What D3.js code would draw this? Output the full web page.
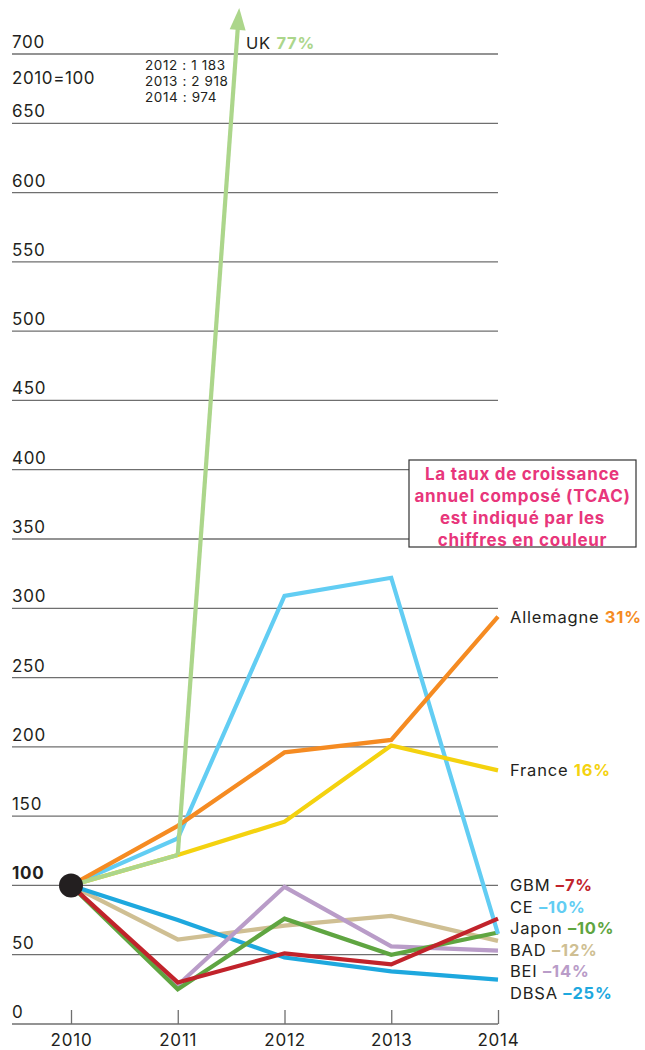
<!DOCTYPE html>
<html>
<head>
<meta charset="utf-8">
<script src="https://cdn.jsdelivr.net/npm/d3@7"></script>
<style>
  body { margin: 0; background: #fff; }
  svg { display: block; font-family: Inter, "Noto Sans", sans-serif; }
</style>
</head>
<body>
<div id="chart"></div>
<script>
const W = 645, H = 1050

const years = [2010, 2011, 2012, 2013, 2014]
const gridValues = [0, 50, 100, 150, 200, 250, 300, 350, 400, 450, 500, 550, 600, 650, 700]

// index values, 2010 = 100
const ukValues        = [100, 122, 1183, 2918, 974]
const ceValues        = [100, 134, 309, 322, 65]
const allemagneValues = [100, 143, 196, 205, 294]
const franceValues    = [100, 122, 146, 201, 183]
const gbmValues       = [100, 30, 51, 43, 76]
const japonValues     = [100, 25, 76, 50, 66]
const badValues       = [100, 61, 71, 78, 60]
const beiValues       = [100, 28, 99, 56, 53]
const dbsaValues      = [100, 75, 48, 38, 32]

const seriesNames = ['BAD', 'DBSA', 'BEI', 'Japon', 'CE', 'GBM', 'France', 'Allemagne', 'UK']
const seriesRates = ['–12%', '–25%', '–14%', '–10%', '–10%', '–7%', '16%', '31%', '77%']
const seriesColors = ['#cfbf93', '#1ea8de', '#b99cc8', '#5fa541', '#62cdf3', '#c1232b', '#f4d20f', '#f58b22', '#acd68b']
const seriesValues = [badValues, dbsaValues, beiValues, japonValues, ceValues, gbmValues, franceValues, allemagneValues, ukValues]

// right-hand label order (top to bottom) for the low group
const lowLabels = ['GBM', 'CE', 'Japon', 'BAD', 'BEI', 'DBSA']

const ukNote = ['2012 : 1 183', '2013 : 2 918', '2014 : 974']
const noteLines = ['La taux de croissance', 'annuel composé (TCAC)', 'est indiqué par les', 'chiffres en couleur']

const svg = d3.select('#chart').append('svg')
    .attr('width', W)
    .attr('height', H)

const xScale = d3.scalePoint()
    .domain(years)
    .range([71, 498])

const yScale = d3.scaleLinear()
    .domain([0, 700])
    .range([1024, 54])

const gridLeft = 12, gridRight = 498

// gridlines
svg.append('g')
    .selectAll('line')
    .data(gridValues)
    .enter()
    .append('line')
    .attr('x1', gridLeft)
    .attr('x2', gridRight)
    .attr('y1', d => yScale(d))
    .attr('y2', d => yScale(d))
    .attr('stroke', '#6f6f6f')
    .attr('stroke-width', 1.3)

// grid labels above lines
svg.append('g')
    .selectAll('text')
    .data(gridValues)
    .enter()
    .append('text')
    .attr('x', gridLeft)
    .attr('y', d => yScale(d) - 6)
    .attr('font-size', 17)
    .attr('letter-spacing', 0.7)
    .attr('font-weight', d => d === 100 ? 700 : 400)
    .attr('fill', '#231f20')
    .text(d => d)

svg.append('text')
    .attr('x', gridLeft)
    .attr('y', 84)
    .attr('font-size', 17)
    .attr('letter-spacing', 0.6)
    .attr('fill', '#231f20')
    .text('2010=100')

// bottom axis: ticks go up, labels below
const xAxis = svg.append('g')
    .attr('transform', 'translate(0,' + yScale(0) + ')')
    .call(d3.axisBottom(xScale).tickSize(-14).tickPadding(10).tickSizeOuter(0))
xAxis.select('.domain').remove()
xAxis.selectAll('line').attr('stroke', '#6f6f6f').attr('stroke-width', 1.3)
xAxis.selectAll('text')
    .attr('font-size', 17)
    .attr('letter-spacing', 0.8)
    .attr('font-family', 'Inter, "Noto Sans", sans-serif')
    .attr('fill', '#231f20')

// note box
const boxX = 409, boxY = 460, boxW = 227, boxH = 87
svg.append('rect')
    .attr('x', boxX)
    .attr('y', boxY)
    .attr('width', boxW)
    .attr('height', boxH)
    .attr('fill', '#fff')
    .attr('stroke', '#333')
    .attr('stroke-width', 1.2)
svg.append('g')
    .selectAll('text')
    .data(noteLines)
    .enter()
    .append('text')
    .attr('x', boxX + boxW / 2)
    .attr('y', (d, i) => boxY + 20 + i * 22)
    .attr('text-anchor', 'middle')
    .attr('font-size', 17)
    .attr('letter-spacing', 0.7)
    .attr('font-weight', 700)
    .attr('fill', '#e8367b')
    .text(d => d)

// lines
const line = d3.line()
    .x((d, i) => xScale(years[i]))
    .y(d => yScale(d))

const linesG = svg.append('g')
seriesNames.forEach(function(name, s){
    let vals = seriesValues[s]
    if (name === 'UK') {
        // only 2010-2011 fits; the rest is shown as an arrow
        linesG.append('path')
            .datum(vals.slice(0, 2))
            .attr('d', line)
            .attr('fill', 'none')
            .attr('stroke', seriesColors[s])
            .attr('stroke-width', 4.2)
            .attr('stroke-linejoin', 'round')
        let x1 = xScale(years[1]), y1 = yScale(vals[1])
        let x2 = xScale(years[2]), y2 = yScale(vals[2])
        let tipY = 8
        let t = (tipY - y1) / (y2 - y1)
        let tipX = x1 + (x2 - x1) * t
        let len = Math.hypot(tipX - x1, tipY - y1)
        let ux = (tipX - x1) / len, uy = (tipY - y1) / len
        let headL = 22, headW = 8
        let bx = tipX - ux * headL, by = tipY - uy * headL
        linesG.append('line')
            .attr('x1', x1).attr('y1', y1)
            .attr('x2', bx + ux * 2).attr('y2', by + uy * 2)
            .attr('stroke', seriesColors[s])
            .attr('stroke-width', 4.2)
        linesG.append('path')
            .attr('d', 'M' + tipX + ',' + tipY +
                'L' + (bx - uy * headW) + ',' + (by + ux * headW) +
                'L' + (bx + uy * headW) + ',' + (by - ux * headW) + 'Z')
            .attr('fill', seriesColors[s])
    } else {
        linesG.append('path')
            .datum(vals)
            .attr('d', line)
            .attr('fill', 'none')
            .attr('stroke', seriesColors[s])
            .attr('stroke-width', 4.2)
            .attr('stroke-linejoin', 'miter')
    }
})

// origin dot
svg.append('circle')
    .attr('cx', xScale(2010))
    .attr('cy', yScale(100))
    .attr('r', 12)
    .attr('fill', '#231f20')

// right labels
function addLabel(x, y, name, rate, color){
    let t = svg.append('text')
        .attr('x', x)
        .attr('y', y)
        .attr('font-size', 16.5)
        .attr('letter-spacing', 0.8)
        .attr('fill', '#231f20')
    t.append('tspan').text(name + ' ')
    t.append('tspan').attr('font-weight', 700).attr('fill', color).text(rate)
}

let idx = n => seriesNames.indexOf(n)
addLabel(246, 49, 'UK', seriesRates[idx('UK')], seriesColors[idx('UK')])
addLabel(510, 623, 'Allemagne', seriesRates[idx('Allemagne')], seriesColors[idx('Allemagne')])
addLabel(510, 776, 'France', seriesRates[idx('France')], seriesColors[idx('France')])
lowLabels.forEach(function(n, i){
    addLabel(510, 891 + i * 21.5, n, seriesRates[idx(n)], seriesColors[idx(n)])
})

// UK values off the chart
svg.append('g')
    .selectAll('text')
    .data(ukNote)
    .enter()
    .append('text')
    .attr('x', 145)
    .attr('y', (d, i) => 70 + i * 16)
    .attr('font-size', 13.5)
    .attr('letter-spacing', 0.6)
    .attr('fill', '#231f20')
    .text(d => d)
</script>
</body>
</html>
